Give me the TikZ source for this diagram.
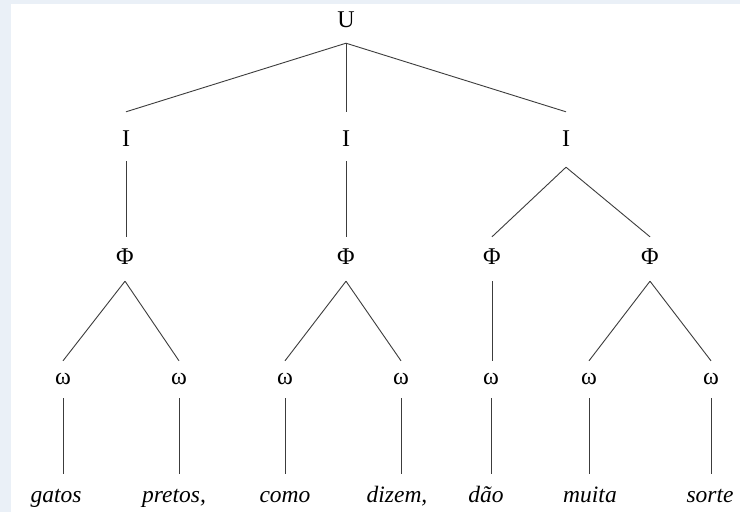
\documentclass[tikz,border=0pt]{standalone}
\usepackage{fontspec}
\setmainfont{Liberation Serif}
\definecolor{pagebg}{RGB}{234,240,247}
\definecolor{linecol}{RGB}{60,60,60}
\begin{document}
\begin{tikzpicture}[x=1pt,y=-1pt,
  lbl/.style={anchor=base,inner sep=0pt,font=\fontsize{24}{27}\selectfont},
  lvU/.style={lbl,text height=20pt,text depth=16pt},
  lvI/.style={lbl,text height=34pt,text depth=15pt},
  lvP/.style={lbl,text height=27pt,text depth=17pt},
  lvO/.style={lbl,text height=23pt,text depth=14pt},
  lvW/.style={lbl,text height=28pt,text depth=6pt,font=\fontsize{23.5}{26}\selectfont\itshape},
  edge/.style={draw=linecol,line width=0.9pt}]
\useasboundingbox (0,0) rectangle (740,512);
\fill[pagebg] (0,0) rectangle (740,512);
\fill[white] (11,4) rectangle (740,512);
% nodes
\node[lvU] (U) at (346,27) {U};
\node[lvI] (I1) at (126,146) {I};
\node[lvI] (I2) at (346,146) {I};
\node[lvI,text depth=21pt] (I3) at (566,146) {I};
\node[lvP] (P1) at (125,264) {Φ};
\node[lvP] (P2) at (346,264) {Φ};
\node[lvP] (P3) at (492,264) {Φ};
\node[lvP] (P4) at (650,264) {Φ};
\node[lvO] (O1) at (63,384) {ω};
\node[lvO] (O2) at (179,384) {ω};
\node[lvO] (O3) at (285,384) {ω};
\node[lvO] (O4) at (401,384) {ω};
\node[lvO] (O5) at (491,384) {ω};
\node[lvO] (O6) at (589,384) {ω};
\node[lvO] (O7) at (711,384) {ω};
\node[lvW] (W1) at (56,502) {gatos};
\node[lvW] (W2) at (174,502) {pretos,};
\node[lvW] (W3) at (285,502) {como};
\node[lvW] (W4) at (397,502) {dizem,};
\node[lvW] (W5) at (486,502) {dão};
\node[lvW] (W6) at (590,502) {muita};
\node[lvW] (W7) at (710,502) {sorte};
% connectors
\draw[edge] (U.south) -- (I1.north);
\draw[edge] (U.south) -- (I2.north);
\draw[edge] (U.south) -- (I3.north);
\draw[edge] (I1.south) -- (I1.south |- P1.north);
\draw[edge] (I2.south) -- (I2.south |- P2.north);
\draw[edge] (I3.south) -- (P3.north);
\draw[edge] (I3.south) -- (P4.north);
\draw[edge] (P1.south) -- (O1.north);
\draw[edge] (P1.south) -- (O2.north);
\draw[edge] (P2.south) -- (O3.north);
\draw[edge] (P2.south) -- (O4.north);
\draw[edge] (P3.south) -- (P3.south |- O5.north);
\draw[edge] (P4.south) -- (O6.north);
\draw[edge] (P4.south) -- (O7.north);
\draw[edge] (O1.south) -- (O1.south |- W1.north);
\draw[edge] (O2.south) -- (O2.south |- W2.north);
\draw[edge] (O3.south) -- (O3.south |- W3.north);
\draw[edge] (O4.south) -- (O4.south |- W4.north);
\draw[edge] (O5.south) -- (O5.south |- W5.north);
\draw[edge] (O6.south) -- (O6.south |- W6.north);
\draw[edge] (O7.south) -- (O7.south |- W7.north);
\end{tikzpicture}
\end{document}
